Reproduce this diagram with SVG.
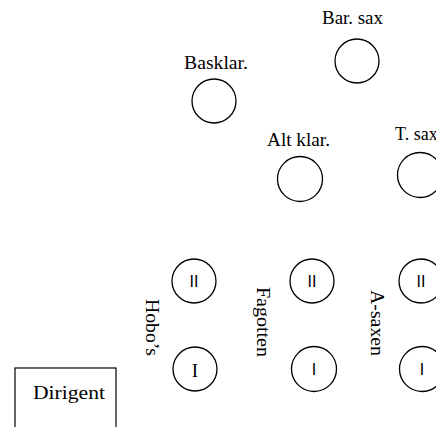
<svg xmlns="http://www.w3.org/2000/svg" width="436" height="427" viewBox="0 0 436 427">
<style>
.seat{fill:#fff;stroke:#000;stroke-width:1.3}
.lbl{font-family:"Liberation Serif","Times New Roman",serif;font-size:18px;fill:#000}
.num{font-family:"Liberation Sans",Arial,sans-serif;font-size:16px;fill:#000;text-anchor:middle}
.numS{font-family:"Liberation Serif","Times New Roman",serif;font-size:19px;fill:#000;text-anchor:middle}
</style>
<rect width="436" height="427" fill="#fff"/>
<g id="connectors"></g>
<g id="barsax">
<text class="lbl" x="322" y="24" textLength="61" lengthAdjust="spacingAndGlyphs">Bar. sax</text>
<circle class="seat" cx="357" cy="61" r="22"/>
</g>
<g id="basklar">
<text class="lbl" x="184" y="69" textLength="64" lengthAdjust="spacingAndGlyphs">Basklar.</text>
<circle class="seat" cx="214" cy="101" r="22"/>
</g>
<g id="altklar">
<text class="lbl" x="267" y="146" textLength="63" lengthAdjust="spacingAndGlyphs">Alt klar.</text>
<circle class="seat" cx="300" cy="179" r="22.5"/>
</g>
<g id="tsax">
<text class="lbl" x="395" y="140">T. sax</text>
<circle class="seat" cx="420" cy="175" r="22.5"/>
</g>
<g id="hobos">
<text class="lbl" transform="translate(146,299) rotate(90)" textLength="57" lengthAdjust="spacingAndGlyphs">Hobo’s</text>
<circle class="seat" cx="194" cy="281" r="22"/>
<text class="num" x="194" y="287">II</text>
<circle class="seat" cx="195" cy="369" r="22"/>
<text class="numS" x="195" y="377">I</text>
</g>
<g id="fagotten">
<text class="lbl" transform="translate(257,287) rotate(90)" textLength="70" lengthAdjust="spacingAndGlyphs">Fagotten</text>
<circle class="seat" cx="312" cy="281" r="22"/>
<text class="num" x="312" y="287">II</text>
<circle class="seat" cx="314" cy="369" r="22.5"/>
<text class="num" x="314" y="375">I</text>
</g>
<g id="asaxen">
<text class="lbl" transform="translate(371,290) rotate(90)" textLength="66" lengthAdjust="spacingAndGlyphs">A-saxen</text>
<circle class="seat" cx="421" cy="281" r="22"/>
<text class="num" x="421" y="287">II</text>
<circle class="seat" cx="422" cy="369" r="22.5"/>
<text class="num" x="422" y="375">I</text>
</g>
<g id="dirigent">
<rect x="15" y="368" width="101" height="70" fill="#fff" stroke="#000" stroke-width="1.2"/>
<text class="lbl" x="33" y="399" font-size="17" textLength="72" lengthAdjust="spacingAndGlyphs">Dirigent</text>
</g>
</svg>
